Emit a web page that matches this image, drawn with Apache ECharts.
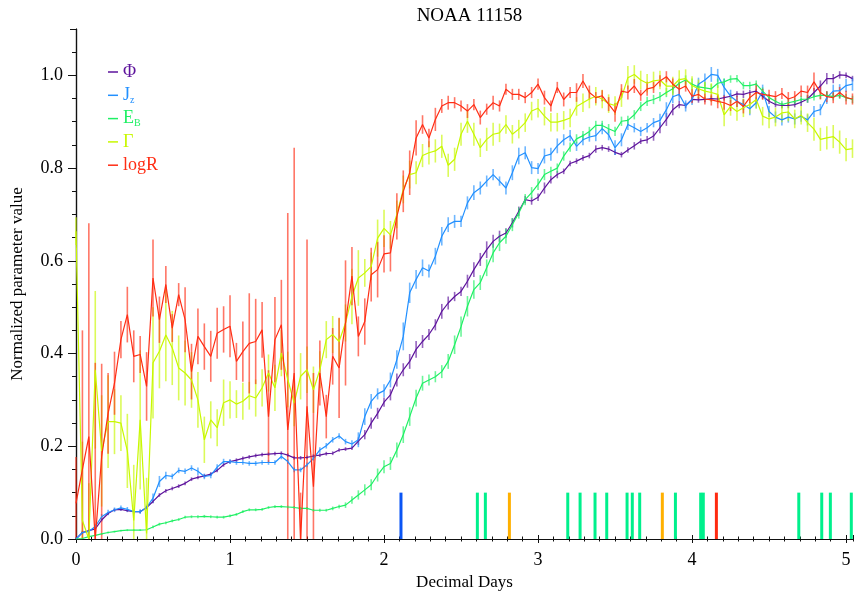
<!DOCTYPE html>
<html><head><meta charset="utf-8">
<script src="https://cdn.jsdelivr.net/npm/echarts@6/dist/echarts.min.js"></script>
<style>html,body{margin:0;padding:0;background:#fff}#c{width:854px;height:595px}</style>
</head><body><div id="c"></div>
<script>
// ---------------- data (hourly cadence, index = hours since start) ----------------
const seriesNames = ['Φ', 'Jz', 'EB', 'Γ', 'logR'];
const xTickLabels = ['0', '1', '2', '3', '4', '5'];
const yTickLabels = ['0.0', '0.2', '0.4', '0.6', '0.8', '1.0'];

const phi = [
0.000,0.014,0.018,0.022,0.041,0.055,0.063,0.064,0.061,0.059,0.059,0.068,0.081,0.095,0.104,0.109,0.114,0.120,0.129,0.133,0.136,0.140,0.148,0.160,
0.167,0.170,0.174,0.177,0.180,0.182,0.183,0.184,0.185,0.181,0.175,0.175,0.176,0.179,0.181,0.184,0.185,0.192,0.194,0.196,0.211,0.225,0.250,0.271,
0.295,0.311,0.343,0.365,0.383,0.409,0.426,0.441,0.462,0.491,0.509,0.523,0.534,0.556,0.581,0.603,0.624,0.642,0.653,0.660,0.682,0.707,0.732,0.729,
0.737,0.757,0.775,0.786,0.793,0.810,0.815,0.822,0.827,0.841,0.844,0.841,0.834,0.829,0.839,0.848,0.858,0.861,0.869,0.887,0.905,0.926,0.937,0.935,
0.948,0.947,0.948,0.950,0.949,0.952,0.955,0.960,0.959,0.963,0.966,0.955,0.944,0.937,0.935,0.935,0.937,0.942,0.949,0.963,0.977,0.993,0.993,1.001,
1.000,0.993];
const phiErr = [
0.003,0.003,0.003,0.003,0.003,0.003,0.003,0.003,0.003,0.003,0.003,0.003,0.004,0.004,0.004,0.004,0.004,0.004,0.004,0.004,0.004,0.004,0.004,0.004,
0.004,0.004,0.004,0.004,0.004,0.004,0.004,0.004,0.004,0.004,0.004,0.004,0.004,0.004,0.004,0.004,0.004,0.004,0.004,0.004,0.008,0.010,0.012,0.012,
0.010,0.012,0.014,0.014,0.016,0.018,0.014,0.012,0.012,0.016,0.014,0.010,0.010,0.014,0.016,0.014,0.018,0.014,0.012,0.010,0.010,0.010,0.008,0.008,
0.008,0.012,0.008,0.008,0.006,0.006,0.006,0.006,0.006,0.008,0.006,0.006,0.006,0.006,0.006,0.008,0.006,0.008,0.010,0.012,0.014,0.012,0.008,0.006,
0.006,0.006,0.006,0.006,0.006,0.006,0.006,0.006,0.008,0.006,0.006,0.006,0.006,0.006,0.006,0.006,0.006,0.008,0.008,0.010,0.012,0.012,0.010,0.008,
0.006,0.006];

const jz = [
0.000,0.014,0.016,0.027,0.048,0.057,0.063,0.067,0.064,0.059,0.059,0.068,0.088,0.124,0.137,0.135,0.148,0.146,0.153,0.146,0.135,0.137,0.155,0.167,
0.167,0.165,0.165,0.163,0.163,0.165,0.165,0.165,0.178,0.167,0.149,0.149,0.160,0.174,0.192,0.201,0.214,0.222,0.210,0.205,0.214,0.264,0.297,0.313,
0.320,0.343,0.387,0.437,0.531,0.560,0.585,0.578,0.610,0.653,0.678,0.685,0.685,0.725,0.747,0.757,0.772,0.786,0.772,0.757,0.790,0.826,0.833,0.801,
0.799,0.826,0.830,0.848,0.861,0.870,0.847,0.861,0.867,0.870,0.885,0.872,0.844,0.861,0.894,0.887,0.879,0.887,0.898,0.903,0.926,0.954,0.959,0.934,
0.948,0.981,0.990,1.002,1.000,0.974,0.955,0.944,0.937,0.928,0.941,0.966,0.922,0.910,0.904,0.910,0.906,0.912,0.904,0.922,0.926,0.952,0.966,0.967,
0.978,0.981];
const jzErr = [
0.004,0.004,0.004,0.005,0.006,0.006,0.005,0.005,0.005,0.005,0.005,0.006,0.010,0.012,0.008,0.006,0.006,0.006,0.006,0.008,0.006,0.006,0.006,0.006,
0.005,0.005,0.005,0.005,0.005,0.005,0.005,0.005,0.006,0.005,0.005,0.005,0.005,0.005,0.006,0.006,0.006,0.006,0.006,0.008,0.016,0.018,0.016,0.012,
0.014,0.016,0.020,0.030,0.022,0.020,0.018,0.014,0.018,0.020,0.016,0.014,0.012,0.014,0.016,0.014,0.012,0.012,0.010,0.014,0.016,0.018,0.014,0.014,
0.012,0.016,0.014,0.016,0.012,0.012,0.010,0.012,0.010,0.012,0.012,0.012,0.016,0.014,0.012,0.010,0.010,0.010,0.010,0.014,0.016,0.014,0.014,0.012,
0.012,0.014,0.014,0.016,0.014,0.018,0.014,0.012,0.012,0.014,0.012,0.014,0.012,0.012,0.012,0.012,0.012,0.012,0.012,0.012,0.012,0.014,0.014,0.014,
0.014,0.014];

const eb = [
0.000,0.001,0.005,0.008,0.011,0.014,0.016,0.018,0.019,0.019,0.019,0.020,0.026,0.032,0.035,0.039,0.042,0.047,0.048,0.048,0.049,0.048,0.047,0.047,
0.050,0.053,0.059,0.063,0.063,0.064,0.068,0.070,0.070,0.069,0.068,0.066,0.066,0.062,0.062,0.062,0.066,0.070,0.073,0.084,0.095,0.106,0.117,0.138,
0.156,0.163,0.192,0.225,0.264,0.304,0.336,0.343,0.350,0.361,0.383,0.419,0.458,0.502,0.538,0.553,0.585,0.617,0.639,0.653,0.678,0.703,0.732,0.747,
0.765,0.786,0.793,0.800,0.826,0.845,0.863,0.870,0.879,0.892,0.892,0.885,0.879,0.901,0.903,0.915,0.933,0.944,0.948,0.954,0.963,0.971,0.983,0.990,
0.981,0.975,0.973,0.971,0.983,0.986,0.992,0.993,0.978,0.978,0.981,0.966,0.952,0.944,0.937,0.941,0.944,0.948,0.949,0.954,0.957,0.957,0.954,0.957,
0.952,0.948];
const ebErr = [
0.002,0.002,0.002,0.002,0.002,0.002,0.002,0.002,0.002,0.002,0.002,0.002,0.003,0.003,0.003,0.003,0.003,0.003,0.003,0.003,0.003,0.003,0.003,0.003,
0.003,0.003,0.003,0.003,0.003,0.003,0.003,0.003,0.003,0.003,0.003,0.003,0.003,0.003,0.003,0.003,0.004,0.004,0.006,0.008,0.010,0.012,0.012,0.014,
0.014,0.014,0.016,0.018,0.020,0.018,0.016,0.012,0.012,0.014,0.016,0.020,0.022,0.022,0.020,0.016,0.018,0.020,0.018,0.016,0.014,0.012,0.012,0.012,
0.012,0.012,0.010,0.010,0.010,0.010,0.010,0.010,0.010,0.010,0.010,0.010,0.010,0.010,0.010,0.010,0.010,0.010,0.010,0.010,0.010,0.010,0.010,0.010,
0.012,0.010,0.012,0.010,0.010,0.008,0.008,0.008,0.008,0.008,0.008,0.008,0.008,0.008,0.008,0.008,0.008,0.008,0.008,0.008,0.008,0.008,0.008,0.008,
0.008,0.008];

const gamma = [
0.664,0.040,0.000,0.365,0.190,0.253,0.253,0.250,0.190,0.040,0.257,0.012,0.380,0.405,0.440,0.412,0.369,0.358,0.343,0.300,0.214,0.257,0.240,0.294,
0.300,0.291,0.297,0.309,0.304,0.326,0.358,0.326,0.401,0.344,0.293,0.351,0.365,0.322,0.365,0.430,0.441,0.426,0.466,0.523,0.563,0.574,0.588,0.649,
0.670,0.656,0.700,0.754,0.786,0.790,0.827,0.833,0.837,0.847,0.806,0.819,0.873,0.901,0.873,0.844,0.862,0.873,0.876,0.894,0.873,0.884,0.898,0.923,
0.929,0.912,0.899,0.899,0.903,0.908,0.933,0.941,0.949,0.955,0.949,0.939,0.935,0.952,0.995,1.002,0.990,0.983,0.988,0.990,0.977,0.977,0.991,0.993,
0.978,0.971,0.966,0.963,0.959,0.915,0.933,0.922,0.930,0.937,0.948,0.912,0.906,0.910,0.919,0.921,0.906,0.914,0.898,0.884,0.862,0.865,0.868,0.856,
0.840,0.842];
const gammaErr = [
0.030,0.170,0.120,0.170,0.120,0.100,0.070,0.060,0.080,0.120,0.150,0.120,0.120,0.080,0.100,0.080,0.070,0.070,0.060,0.060,0.050,0.040,0.040,0.050,
0.040,0.030,0.040,0.030,0.040,0.040,0.040,0.050,0.050,0.060,0.050,0.050,0.050,0.050,0.040,0.040,0.040,0.050,0.040,0.060,0.060,0.030,0.030,0.040,
0.040,0.030,0.030,0.030,0.030,0.025,0.025,0.025,0.025,0.025,0.025,0.025,0.025,0.025,0.025,0.020,0.025,0.025,0.020,0.020,0.020,0.020,0.020,0.020,
0.020,0.020,0.020,0.020,0.020,0.020,0.020,0.020,0.020,0.020,0.020,0.020,0.020,0.020,0.025,0.020,0.020,0.020,0.020,0.020,0.020,0.020,0.020,0.020,
0.020,0.020,0.020,0.020,0.020,0.025,0.020,0.020,0.020,0.020,0.020,0.020,0.020,0.020,0.020,0.020,0.020,0.020,0.020,0.025,0.025,0.025,0.025,0.025,
0.025,0.020];

const logR = [
0.077,0.150,0.221,0.000,0.178,0.271,0.336,0.430,0.484,0.394,0.398,0.329,0.563,0.473,0.549,0.455,0.527,0.473,0.361,0.437,0.415,0.394,0.444,0.452,
0.459,0.383,0.404,0.422,0.426,0.451,0.264,0.430,0.462,0.235,0.358,0.000,0.286,0.113,0.358,0.264,0.394,0.369,0.466,0.567,0.437,0.469,0.570,0.581,
0.615,0.617,0.696,0.750,0.790,0.865,0.894,0.865,0.905,0.934,0.941,0.941,0.934,0.923,0.937,0.909,0.927,0.941,0.934,0.970,0.959,0.959,0.952,0.963,
0.981,0.952,0.934,0.974,0.948,0.963,0.963,0.988,0.963,0.952,0.956,0.938,0.920,0.966,0.963,0.977,0.957,0.971,0.974,0.988,0.997,0.981,0.970,0.977,
0.955,0.959,0.949,0.947,0.944,0.941,0.935,0.944,0.933,0.952,0.963,0.959,0.957,0.954,0.961,0.949,0.954,0.966,0.963,0.986,0.963,0.954,0.952,0.963,
0.952,0.949];
const logRErr = [
0.100,0.300,0.460,0.380,0.200,0.087,0.068,0.040,0.060,0.056,0.040,0.074,0.083,0.050,0.040,0.030,0.025,0.070,0.060,0.060,0.050,0.055,0.055,0.050,
0.067,0.040,0.065,0.108,0.092,0.060,0.100,0.092,0.097,0.468,0.486,0.100,0.360,0.245,0.070,0.047,0.061,0.108,0.135,0.063,0.043,0.050,0.058,0.060,
0.040,0.040,0.050,0.045,0.048,0.038,0.020,0.020,0.025,0.015,0.015,0.012,0.012,0.015,0.012,0.015,0.012,0.015,0.012,0.012,0.012,0.012,0.012,0.012,
0.012,0.015,0.012,0.012,0.015,0.012,0.020,0.015,0.015,0.012,0.012,0.015,0.020,0.015,0.015,0.015,0.012,0.015,0.012,0.012,0.012,0.012,0.015,0.012,
0.015,0.012,0.012,0.012,0.015,0.015,0.012,0.012,0.015,0.012,0.020,0.012,0.012,0.012,0.012,0.015,0.012,0.012,0.015,0.020,0.015,0.012,0.012,0.012,
0.015,0.012];

// flare events (decimal days) and class keys
const flareTimes = [2.110, 2.606, 2.658, 2.814, 3.193, 3.273, 3.370, 3.446, 3.578, 3.612, 3.660, 3.807, 3.892, 4.056, 4.073, 4.158, 4.693, 4.842, 4.898, 5.034];
const flareClass = ['b','g','g','o','g','g','g','g','g','g','g','o','g','g','g','r','g','g','g','g'];
const flareHeight = 0.1;

// ---------------- styling ----------------
const FONT = 'Liberation Serif';
const X_MAX = 5.045, Y_MAX = 1.1;
const colors = { 'Φ': '#5d139c', 'Jz': '#2290ff', 'EB': '#1ff064', 'Γ': '#c8f800', 'logR': '#ff2d14' };
const flareColors = { b: '#0a55f5', g: '#00f08c', o: '#ffb000', r: '#ff2a10' };
const valueSets = { 'Φ': [phi, phiErr], 'Jz': [jz, jzErr], 'EB': [eb, ebErr], 'Γ': [gamma, gammaErr], 'logR': [logR, logRErr] };
const HOURS_PER_DAY = 24;

const series = [];
seriesNames.forEach(name => {
  const [vals, errs] = valueSets[name];
  const c = colors[name];
  series.push({
    name: name + ' err', type: 'custom', xAxisIndex: 0, yAxisIndex: 0, silent: true,
    data: vals.map((v, i) => [i / HOURS_PER_DAY, v, errs[i]]),
    renderItem: (params, api) => {
      const t = api.value(0), v = api.value(1), e = api.value(2);
      const lo = Math.max(0, v - e), hi = Math.min(Y_MAX, v + e);
      const p0 = api.coord([t, lo]), p1 = api.coord([t, hi]);
      return { type: 'line', shape: { x1: p0[0], y1: p0[1], x2: p1[0], y2: p1[1] },
               style: { stroke: c, lineWidth: 1.6, opacity: 0.65 } };
    },
    animation: false
  });
  series.push({
    name: name, type: 'line', xAxisIndex: 0, yAxisIndex: 0, showSymbol: false, symbol: 'none',
    data: vals.map((v, i) => [i / HOURS_PER_DAY, v]),
    lineStyle: { color: c, width: 1.2 }, itemStyle: { color: c },
    animation: false, silent: true
  });
});
series.push({
  name: 'flares', type: 'custom', xAxisIndex: 0, yAxisIndex: 0, silent: true, animation: false,
  data: flareTimes.map((t, i) => [t, flareHeight, i]),
  renderItem: (params, api) => {
    const t = api.value(0), h = api.value(1), idx = api.value(2);
    const p0 = api.coord([t, 0]), p1 = api.coord([t, h]);
    return { type: 'rect', shape: { x: p0[0] - 1.5, y: p1[1], width: 3, height: p0[1] - p1[1] },
             style: { fill: flareColors[flareClass[idx]] } };
  }
});

const richLabel = {
  'Φ': '{phi|Φ}', 'Jz': '{jz|J}{jzs|z}', 'EB': '{eb|E}{ebs|B}', 'Γ': '{ga|Γ}', 'logR': '{lr|logR}'
};
const mainT = (c) => ({ color: c, fontFamily: FONT, fontSize: 18, lineHeight: 20 });
const subT = (c) => ({ color: c, fontFamily: FONT, fontSize: 10, lineHeight: 9, verticalAlign: 'bottom' });

const axisLineStyle = { color: '#111', width: 1.2 };
const baseX = { type: 'value', min: 0, max: X_MAX, splitLine: { show: false }, axisLabel: { show: false } };
const baseY = { type: 'value', min: 0, max: Y_MAX, splitLine: { show: false }, axisLabel: { show: false } };

const option = {
  backgroundColor: '#fff',
  animation: false,
  title: { text: 'NOAA 11158', left: 464.5, textAlign: 'center', top: 2,
           textStyle: { fontFamily: FONT, fontSize: 19, fontWeight: 'normal', color: '#000' } },
  grid: { left: 76, right: 1, top: 29, bottom: 56, containLabel: false, outerBoundsMode: 'none' },
  legend: {
    data: seriesNames, orient: 'vertical', left: 108, top: 62, padding: 0, itemGap: 3.3,
    icon: 'rect', itemWidth: 10, itemHeight: 1.5, selectedMode: false,
    formatter: n => richLabel[n],
    textStyle: { fontFamily: FONT, fontSize: 18, lineHeight: 20, rich: {
      phi: mainT(colors['Φ']), jz: mainT(colors['Jz']), jzs: subT(colors['Jz']),
      eb: mainT(colors['EB']), ebs: subT(colors['EB']), ga: mainT(colors['Γ']), lr: mainT(colors['logR'])
    } }
  },
  xAxis: [
    Object.assign({}, baseX, { position: 'bottom', interval: 1,
      axisLine: { show: true, lineStyle: axisLineStyle },
      axisTick: { show: true, length: 4, lineStyle: { color: '#111', width: 1 } },
      axisLabel: { show: true, fontFamily: FONT, fontSize: 18, color: '#000', margin: 12, showMaxLabel: false,
                   formatter: v => xTickLabels[Math.round(v)] },
      name: 'Decimal Days', nameLocation: 'middle', nameGap: 35,
      nameTextStyle: { fontFamily: FONT, fontSize: 17, color: '#000' } }),
    Object.assign({}, baseX, { position: 'bottom', interval: 0.1, axisLine: { show: false },
      axisTick: { show: true, length: 2.5, lineStyle: { color: '#111', width: 1 } } }),
    Object.assign({}, baseX, { position: 'top', interval: 1, axisLine: { show: true, lineStyle: axisLineStyle },
      axisTick: { show: true, length: 4, lineStyle: { color: '#111', width: 1 } } }),
    Object.assign({}, baseX, { position: 'top', interval: 0.1, axisLine: { show: false },
      axisTick: { show: true, length: 2.5, lineStyle: { color: '#111', width: 1 } } })
  ],
  yAxis: [
    Object.assign({}, baseY, { position: 'left', interval: 0.2,
      axisLine: { show: true, lineStyle: axisLineStyle },
      axisTick: { show: true, length: 8, lineStyle: { color: '#111', width: 1 } },
      axisLabel: { show: true, fontFamily: FONT, fontSize: 18, color: '#000', margin: 13, showMaxLabel: false,
                   formatter: v => yTickLabels[Math.round(v * 5)] },
      name: 'Normalized parameter value', nameLocation: 'middle', nameGap: 50, nameRotate: 90,
      nameTextStyle: { fontFamily: FONT, fontSize: 17, color: '#000' } }),
    Object.assign({}, baseY, { position: 'left', interval: 0.05, axisLine: { show: false },
      axisTick: { show: true, length: 4, lineStyle: { color: '#111', width: 1 } } }),
    Object.assign({}, baseY, { position: 'right', interval: 0.2, axisLine: { show: true, lineStyle: axisLineStyle },
      axisTick: { show: true, inside: true, length: 6, lineStyle: { color: '#111', width: 1 } } }),
    Object.assign({}, baseY, { position: 'right', interval: 0.05, axisLine: { show: false },
      axisTick: { show: true, inside: true, length: 4, lineStyle: { color: '#111', width: 1 } } })
  ],
  series: series
};

const chart = echarts.init(document.getElementById('c'), null, { renderer: 'canvas' });
chart.setOption(option);
</script>
</body></html>
